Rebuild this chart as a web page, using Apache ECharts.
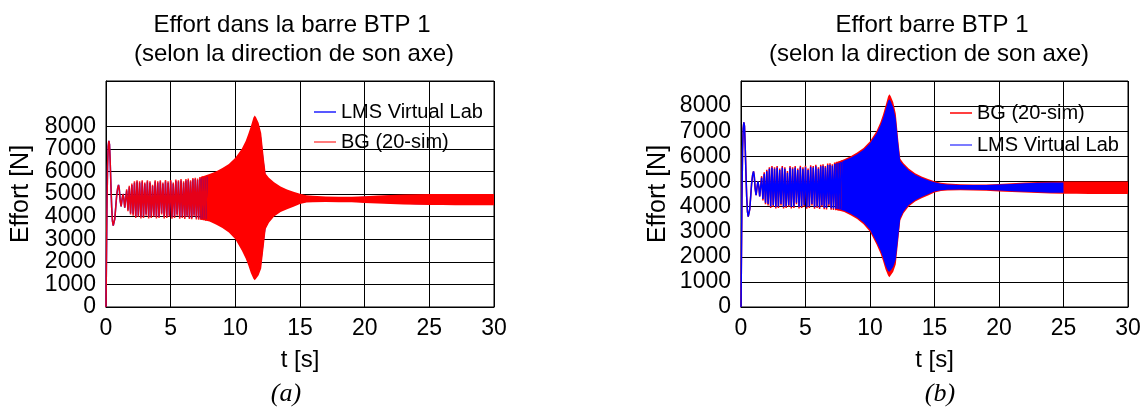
<!DOCTYPE html>
<html>
<head>
<meta charset="utf-8">
<script src="https://cdn.jsdelivr.net/npm/echarts@6/dist/echarts.min.js"></script>
<style>
html, body { margin: 0; padding: 0; background: #fff; }
#main { width: 1145px; height: 410px; }
</style>
</head>
<body>
<div id="main"></div>
<script>
// start transient, same for both models (t in s, effort in N)
var transT = [0, 0.03, 0.07, 0.12, 0.17, 0.22, 0.27, 0.32, 0.38, 0.44, 0.50, 0.56, 0.62,
	0.68, 0.75, 0.82, 0.90, 0.97, 1.03, 1.10, 1.17, 1.24, 1.31, 1.38, 1.45, 1.52];
var transF = [0, 1800, 4200, 6200, 7100, 7350, 7200, 6500, 5400, 4400, 3800, 3600, 3620,
	3900, 4400, 4900, 5250, 5400, 5200, 4700, 4450, 4750, 5000, 4800, 4400, 4350];

// oscillation peaks / troughs before the band gets solid
var zigT = [1.60, 1.70, 1.80, 1.90, 2.00, 2.10, 2.20, 2.30, 2.40, 2.50,
	2.60, 2.70, 2.80, 2.90, 3.00, 3.10, 3.20, 3.30, 3.40, 3.50,
	3.60, 3.70, 3.80, 3.90, 4.00, 4.10, 4.20, 4.30, 4.40, 4.50,
	4.60, 4.70, 4.80, 4.90, 5.00, 5.10, 5.20, 5.30, 5.40, 5.50,
	5.60, 5.70, 5.80, 5.90, 6.00, 6.09, 6.18, 6.27, 6.36, 6.45,
	6.54, 6.63, 6.72, 6.81, 6.90, 6.99, 7.08, 7.17, 7.26, 7.35,
	7.44, 7.53, 7.62, 7.71, 7.80];
var lmsZigF = [5150, 4300, 5300, 4150, 5400, 4100, 5500, 4000, 5550, 4050,
	5500, 3980, 5550, 4000, 5450, 4100, 5550, 3980, 5500, 4000,
	5350, 4050, 5550, 3980, 5500, 4000, 5550, 4150, 5450, 3980,
	5560, 4000, 5500, 4050, 5560, 3970, 5450, 4000, 5580, 4100,
	5550, 3970, 5600, 4000, 5500, 3960, 5600, 4050, 5620, 3950,
	5550, 3940, 5650, 4080, 5660, 3930, 5620, 3920, 5690, 3910,
	5720, 3900, 5740, 3880, 5770];
var bgZigF = [5210, 4240, 5360, 4090, 5460, 4040, 5560, 3940, 5610, 3990,
	5560, 3920, 5610, 3940, 5510, 4040, 5610, 3920, 5560, 3940,
	5410, 3990, 5610, 3920, 5560, 3940, 5610, 4090, 5510, 3920,
	5620, 3940, 5560, 3990, 5620, 3910, 5510, 3940, 5640, 4040,
	5610, 3910, 5660, 3940, 5560, 3900, 5660, 3990, 5680, 3890,
	5610, 3880, 5710, 4020, 5720, 3870, 5680, 3860, 5750, 3850,
	5780, 3840, 5800, 3820, 5830];

// envelope of the dense part (upper / lower), LMS stops at 25 s
var bandT = [7.3, 7.5, 8.0, 8.5, 9.0, 9.5, 10.0, 10.5, 10.8, 11.0,
	11.2, 11.4, 11.5, 11.6, 11.8, 12.0, 12.2, 12.35, 12.6, 13.0,
	13.5, 14.0, 14.5, 15.0, 15.5, 16.0, 17.0, 18.0, 19.0, 20.0,
	21.0, 22.0, 23.0, 24.0, 25.0, 26.0, 27.0, 28.0, 29.0, 30.0];
var bgUpper = [5740, 5780, 5880, 6000, 6150, 6330, 6600, 7000, 7350, 7650,
	8000, 8380, 8470, 8400, 8150, 7700, 6600, 5900, 5720, 5520,
	5330, 5200, 5100, 5010, 4950, 4920, 4890, 4880, 4880, 4900,
	4930, 4960, 4980, 4990, 5000, 5000, 5000, 5000, 5000, 5000];
var bgLower = [3870, 3850, 3780, 3650, 3500, 3300, 3000, 2500, 2150, 1850,
	1500, 1250, 1180, 1250, 1400, 1700, 2700, 3450, 3730, 4000,
	4200, 4330, 4440, 4560, 4620, 4640, 4650, 4640, 4630, 4600,
	4580, 4560, 4540, 4520, 4510, 4510, 4500, 4500, 4500, 4500];
var lmsUpper = [5690, 5730, 5830, 5940, 6080, 6260, 6520, 6900, 7220, 7500,
	7850, 8200, 8270, 8200, 7950, 7500, 6450, 5800, 5650, 5450,
	5270, 5150, 5050, 4970, 4910, 4880, 4860, 4860, 4860, 4880,
	4900, 4930, 4950, 4960, 4960];
var lmsLower = [3910, 3900, 3830, 3710, 3560, 3370, 3080, 2600, 2270, 1980,
	1650, 1430, 1400, 1450, 1600, 1900, 2850, 3530, 3800, 4060,
	4250, 4380, 4490, 4600, 4650, 4670, 4680, 4670, 4660, 4640,
	4610, 4590, 4570, 4550, 4550];

var LMS = 'LMS Virtual Lab';
var BG = 'BG (20-sim)';
var FONT = 'Liberation Sans, Arial, sans-serif';

function pairs(ts, vs) {
	var out = [];
	for (var i = 0; i < ts.length; i++) out.push([ts[i], vs[i]]);
	return out;
}
var lmsLine = pairs(transT, transF).concat(pairs(zigT, lmsZigF));
var bgLine = pairs(transT, transF).concat(pairs(zigT, bgZigF));

// solid band between upper and lower envelope, placed through the axes
function band(name, idx, up, lo, color) {
	return {
		name: name, type: 'custom', xAxisIndex: idx, yAxisIndex: idx,
		data: [[0, 0]], clip: true, silent: true,
		renderItem: function (params, api) {
			var pts = [];
			for (var i = 0; i < up.length; i++) pts.push(api.coord([bandT[i], up[i]]));
			for (var j = lo.length - 1; j >= 0; j--) pts.push(api.coord([bandT[j], lo[j]]));
			return { type: 'polygon', shape: { points: pts }, style: { fill: color } };
		}
	};
}
function line(name, idx, data, color, opacity) {
	return {
		name: name, type: 'line', xAxisIndex: idx, yAxisIndex: idx,
		data: data, showSymbol: false, symbol: 'none', silent: true,
		lineStyle: { color: color, width: 1.5, opacity: opacity, join: 'bevel' },
		itemStyle: { color: color }
	};
}

function xAxis(idx) {
	return {
		type: 'value', gridIndex: idx, min: 0, max: 30, interval: 5,
		name: 't [s]', nameLocation: 'middle', nameGap: 41,
		nameTextStyle: { color: '#000', fontSize: 24, fontFamily: FONT },
		axisLine: { lineStyle: { color: '#000', width: 1 } },
		axisTick: { show: false },
		axisLabel: { color: '#000', fontSize: 23, fontFamily: FONT, margin: 10, showMinLabel: true, showMaxLabel: true, hideOverlap: false },
		splitLine: { show: true, lineStyle: { color: '#000', width: 1 } }
	};
}
function yAxis(idx, max, lineColors, gap, from) {
	return {
		type: 'value', gridIndex: idx, min: 0, max: max, interval: 1000,
		name: 'Effort [N]', nameLocation: 'middle', nameGap: gap,
		nameTextStyle: { color: '#000', fontSize: 25, fontFamily: FONT },
		axisLine: { show: true, lineStyle: { color: '#000', width: 1 } },
		axisTick: { show: false },
		axisLabel: {
			color: '#000', fontSize: 23, fontFamily: FONT, margin: 10,
			showMinLabel: true, showMaxLabel: true, hideOverlap: false,
			formatter: function (v) { return v >= from && v <= 8000 ? String(v) : ''; }
		},
		splitLine: { show: true, lineStyle: { color: lineColors, width: 1 } }
	};
}

var K = '#000';
var gridA = [K, K, K, K, K, K, K, K, K, 'rgba(0,0,0,0)', K];
var gridB = [K, K, K, K, K, K, K, K, K, K];

// (a) has tight label spacing: its "0" label comes from a second, label-only axis
var zeroAxisA = {
	type: 'value', gridIndex: 0, min: 0, max: 10000, interval: 10000, position: 'left',
	axisLine: { show: false }, axisTick: { show: false }, splitLine: { show: false },
	axisLabel: {
		color: '#000', fontSize: 23, fontFamily: FONT, margin: 10,
		formatter: function (v) { return v === 0 ? '0' : ''; }
	}
};

var myChart = echarts.init(document.getElementById('main'), null, { renderer: 'canvas' });
var option = {
	animation: false,
	backgroundColor: '#fff',
	grid: [
		{ left: 106, right: 651, top: 81, bottom: 103, show: true, borderColor: '#000', borderWidth: 1, outerBoundsMode: 'none', containLabel: false },
		{ left: 741, right: 17, top: 81, bottom: 103, show: true, borderColor: '#000', borderWidth: 1, outerBoundsMode: 'none', containLabel: false }
	],
	xAxis: [xAxis(0), xAxis(1)],
	yAxis: [yAxis(0, 10000, gridA, 72, 1000), yAxis(1, 9000, gridB, 70, 0), zeroAxisA],
	legend: [
		{
			orient: 'vertical', left: 309, top: 97, itemGap: 10,
			icon: 'rect', itemWidth: 22, itemHeight: 1.5,
			textStyle: { color: '#000', fontSize: 20, fontFamily: FONT, lineHeight: 20 },
			data: [{ name: LMS, itemStyle: { color: '#2020ff' } }, { name: BG, itemStyle: { color: '#ff5050' } }]
		},
		{
			orient: 'vertical', left: 945, top: 98, itemGap: 12,
			icon: 'rect', itemWidth: 22, itemHeight: 1.5,
			textStyle: { color: '#000', fontSize: 20, fontFamily: FONT, lineHeight: 20 },
			data: [{ name: BG, itemStyle: { color: '#ff0000' } }, { name: LMS, itemStyle: { color: '#5050ff' } }]
		}
	],
	graphic: [
		{ type: 'text', x: 292, y: 25, style: { text: 'Effort dans la barre BTP 1', font: '24px ' + FONT, fill: '#000', align: 'center', verticalAlign: 'middle' } },
		{ type: 'text', x: 294, y: 54, style: { text: '(selon la direction de son axe)', font: '24px ' + FONT, fill: '#000', align: 'center', verticalAlign: 'middle' } },
		{ type: 'text', x: 932, y: 25, style: { text: 'Effort barre BTP 1', font: '24px ' + FONT, fill: '#000', align: 'center', verticalAlign: 'middle' } },
		{ type: 'text', x: 929, y: 54, style: { text: '(selon la direction de son axe)', font: '24px ' + FONT, fill: '#000', align: 'center', verticalAlign: 'middle' } },
		{ type: 'text', x: 286, y: 394, style: { text: '(a)', font: 'italic 26px Liberation Serif, serif', fill: '#000', align: 'center', verticalAlign: 'middle' } },
		{ type: 'text', x: 940, y: 394, style: { text: '(b)', font: 'italic 26px Liberation Serif, serif', fill: '#000', align: 'center', verticalAlign: 'middle' } }
	],
	series: [
		// (a): BG on top of LMS
		line(LMS, 0, lmsLine, '#0000ff', 1),
		band(LMS, 0, lmsUpper, lmsLower, '#0000ff'),
		line(BG, 0, bgLine, '#ff0000', 0.9),
		band(BG, 0, bgUpper, bgLower, '#ff0000'),
		// (b): LMS on top of BG
		line(BG, 1, bgLine, '#ff0000', 1),
		band(BG, 1, bgUpper, bgLower, '#ff0000'),
		line(LMS, 1, lmsLine, '#0000ff', 1),
		band(LMS, 1, lmsUpper, lmsLower, '#0000ff')
	]
};
myChart.setOption(option);
</script>
</body>
</html>
